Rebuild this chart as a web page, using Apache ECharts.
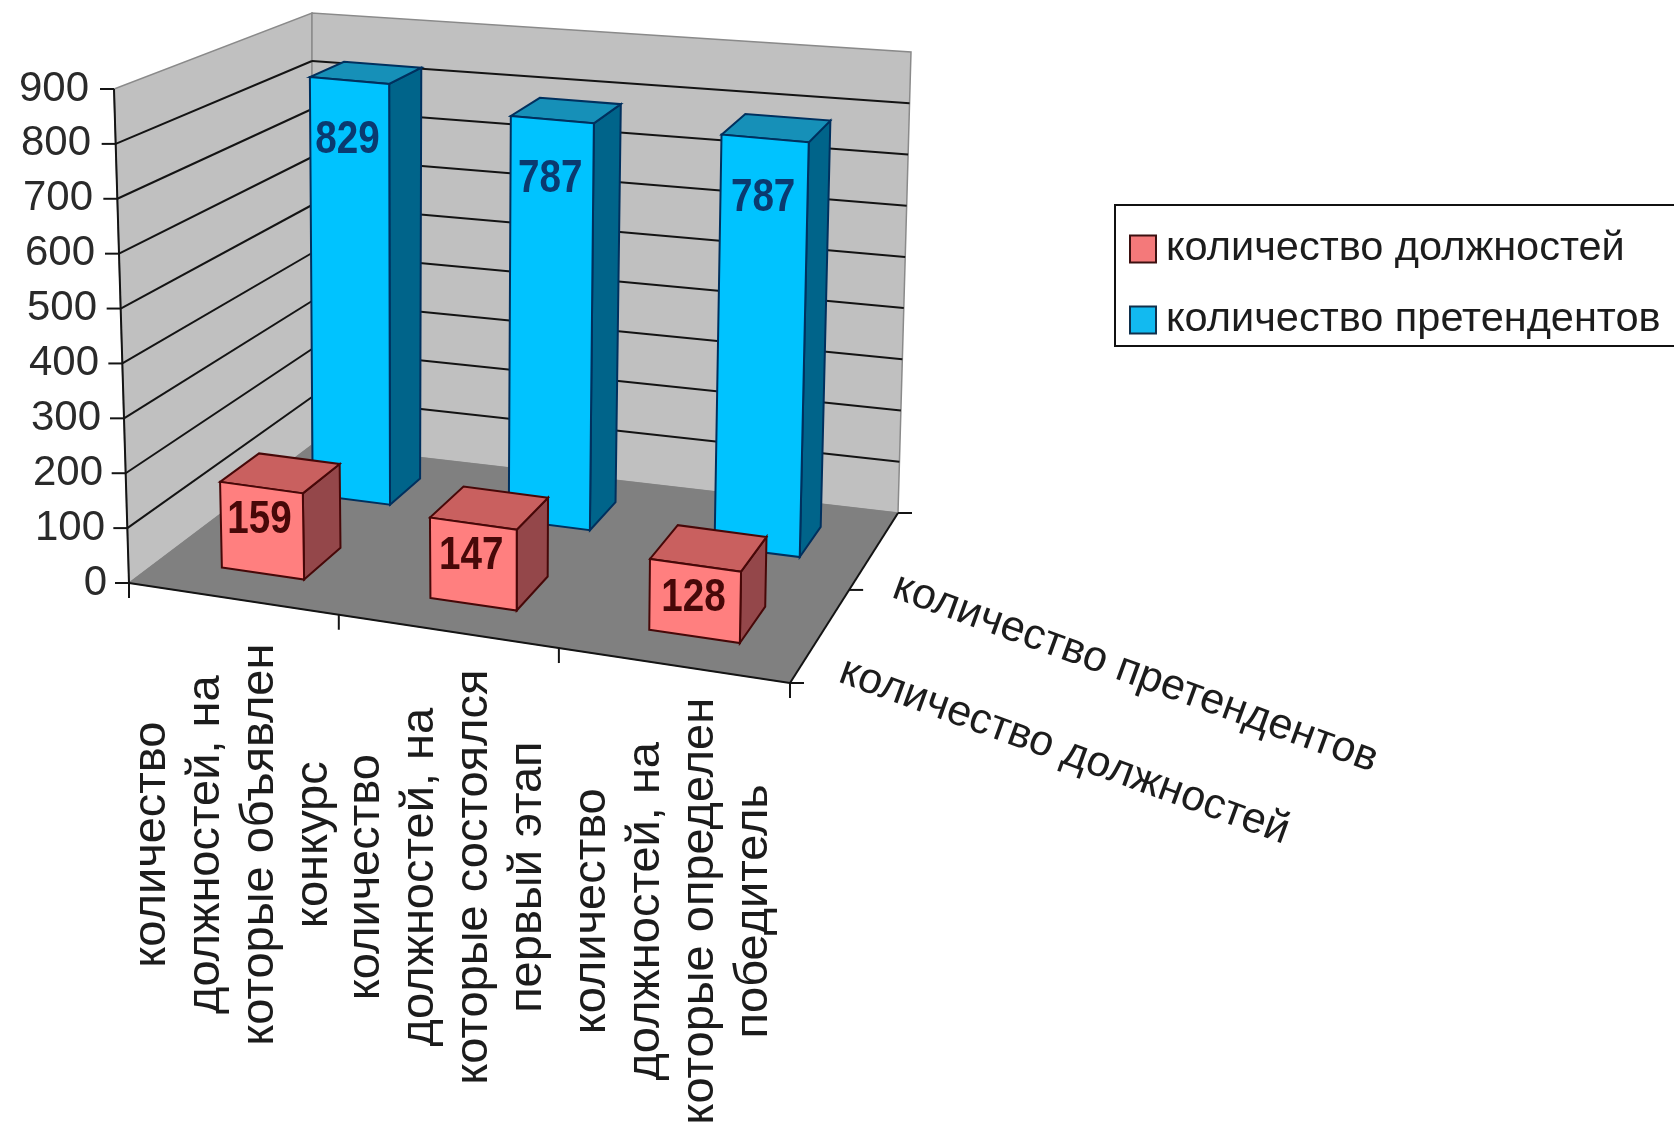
<!DOCTYPE html>
<html><head><meta charset="utf-8">
<style>html,body{margin:0;padding:0;background:#fff}#c{width:1674px;height:1131px}</style>
<script src="https://cdn.jsdelivr.net/npm/echarts@6/dist/echarts.min.js"></script>
</head><body><div id="c"></div>
<script>
// ---- data ----
const categories = [
  "количество\nдолжностей, на\nкоторые объявлен\nконкурс",
  "количество\nдолжностей, на\nкоторые состоялся\nпервый этап",
  "количество\nдолжностей, на\nкоторые определен\nпобедитель"
];
const seriesNames = ["количество должностей", "количество претендентов"];
const positionCounts = [159, 147, 128];
const applicantCounts = [829, 787, 787];
const valueTicks = [0, 100, 200, 300, 400, 500, 600, 700, 800, 900];

// ---- layout / style ----
const GRID = {left: 129, top: 89, width: 661, height: 494};
const BOX = {
  floor: {fl: [129, 583], fr: [790, 683], bl: [312, 445], br: [898, 513]},
  top:   {fl: [114, 89],  fr: [800, 170], bl: [312, 13],  br: [911, 52]}
};
const LABEL_FONT = '"Liberation Sans", Arial, sans-serif';
const TEXT = '#1c1c1c';
const SKIN = [
  {front: '#ff7f7f', top: '#c9605f', side: '#94474a', line: '#470808', label: '#470808'},
  {front: '#00c3ff', top: '#1690b8', side: '#00648a', line: '#00305e', label: '#0a3a70'}
];
const ROW_CENTER = [0.25, 0.75], ROW_HALF = 0.1, BAR_HALF = 0.2;

const mix = (a, b, k) => [a[0] + (b[0] - a[0]) * k, a[1] + (b[1] - a[1]) * k];
const warp = (x, k) => x * k / (1 + (k - 1) * x);
const plane = (q, u, w) => mix(mix(q.fl, q.fr, u), mix(q.bl, q.br, u), w);

// t: category-axis position, d: depth 0..1, v: value. Goes through the grid's own scales.
function project(api, t, d, v) {
  const c = api.coord([t, v]);
  const u = warp((c[0] - GRID.left) / GRID.width, 0.93);
  const w = warp(d, 1.21);
  const h = (GRID.top + GRID.height - c[1]) / GRID.height;
  return mix(plane(BOX.floor, u, w), plane(BOX.top, u, w), h);
}
const poly = (points, fill, stroke, lineWidth) => ({
  type: 'polygon', shape: {points},
  style: {fill, stroke: stroke || fill, lineWidth: lineWidth === undefined ? 1 : lineWidth}
});
const seg = (a, b, stroke, lineWidth) => ({
  type: 'line', shape: {x1: a[0], y1: a[1], x2: b[0], y2: b[1]},
  style: {stroke, lineWidth: lineWidth || 2, fill: null}
});

function renderFrame(params, api) {
  const P = (t, d, v) => project(api, t, d, v);
  const maxV = valueTicks[valueTicks.length - 1], kids = [];
  kids.push(poly([P(0,0,0), P(0,1,0), P(0,1,maxV), P(0,0,maxV)], '#c0c0c0', '#8a8a8a', 1.5));
  kids.push(poly([P(0,1,0), P(3,1,0), P(3,1,maxV), P(0,1,maxV)], '#c0c0c0', '#8a8a8a', 1.5));
  kids.push(poly([P(0,0,0), P(3,0,0), P(3,1,0), P(0,1,0)], '#808080', '#808080', 1));
  valueTicks.slice(1, -1).forEach(v => {
    kids.push(seg(P(0,0,v), P(0,1,v), '#141414'));
    kids.push(seg(P(0,1,v), P(3,1,v), '#141414'));
  });
  kids.push(seg(P(0,0,0), P(0,0,maxV), '#141414'));
  kids.push(seg(P(0,0,0), P(3,0,0), '#141414'));
  kids.push(seg(P(3,0,0), P(3,1,0), '#141414'));
  valueTicks.forEach(v => {
    const p = P(0,0,v);
    kids.push(seg([p[0] - 14, p[1]], p, '#141414'));
  });
  [0, 1, 2, 3].forEach(t => {
    const p = P(t,0,0);
    kids.push(seg(p, [p[0], p[1] + 15], '#141414'));
  });
  [0, 0.5, 1].forEach(d => {
    const p = P(3,d,0);
    kids.push(seg(p, [p[0] + 14, p[1]], '#141414'));
  });
  return {type: 'group', children: kids};
}

function renderTexts(params, api) {
  const P = (t, d, v) => project(api, t, d, v);
  const kids = [];
  categories.forEach((text, i) => {
    const p = P(i + 0.5, 0, 0);
    kids.push({type: 'text', x: p[0], y: p[1] + 246, rotation: Math.PI / 2,
      style: {text, x: 0, y: 0, align: 'center', verticalAlign: 'middle',
        font: '47px ' + LABEL_FONT, lineHeight: 54, fill: TEXT}});
  });
  seriesNames.forEach((text, i) => {
    const p = P(3, ROW_CENTER[i], 0);
    kids.push({type: 'text', x: p[0] + 20, y: p[1] + 36, rotation: -20 * Math.PI / 180,
      style: {text, x: 0, y: 0, align: 'left', verticalAlign: 'middle',
        font: '43px ' + LABEL_FONT, fill: TEXT}});
  });
  return {type: 'group', children: kids};
}

function barRenderer(row) {
  return function (params, api) {
    const i = api.value(0), val = api.value(1), s = SKIN[row];
    const l = i + 0.5 - BAR_HALF, r = i + 0.5 + BAR_HALF;
    const f = ROW_CENTER[row] - ROW_HALF, b = ROW_CENTER[row] + ROW_HALF;
    const P = (t, d, v) => project(api, t, d, v);
    const top = mix(P(l, f, val), P(r, f, val), 0.5);
    return {type: 'group', children: [
      poly([P(r,f,0), P(r,b,0), P(r,b,val), P(r,f,val)], s.side, s.line, 2),
      poly([P(l,f,val), P(r,f,val), P(r,b,val), P(l,b,val)], s.top, s.line, 2),
      poly([P(l,f,0), P(r,f,0), P(r,f,val), P(l,f,val)], s.front, s.line, 2),
      {type: 'text', x: top[0] - 2, y: top[1] + (row === 0 ? 33 : 60), scaleX: 0.84,
        style: {text: String(val), x: 0, y: 0, align: 'center', verticalAlign: 'middle',
          font: 'bold 46px ' + LABEL_FONT, fill: s.label}}
    ]};
  };
}

const rich = {};
valueTicks.forEach(v => {
  rich['t' + v] = {
    fontSize: 42, fontFamily: LABEL_FONT, color: '#2a2a2a',
    padding: [0, 18 * v / 900, 0, 0]
  };
});

const chart = echarts.init(document.getElementById('c'), null, {renderer: 'canvas', width: 1674, height: 1131});
chart.setOption({
  animation: false,
  backgroundColor: '#fff',
  grid: Object.assign({containLabel: false}, GRID),
  xAxis: {type: 'value', min: 0, max: 3, show: false},
  yAxis: {
    type: 'value', min: 0, max: 900, interval: 100,
    splitLine: {show: false}, axisLine: {show: false}, axisTick: {show: false},
    axisLabel: {margin: 22, formatter: v => '{t' + v + '|' + v + '}', rich}
  },
  legend: {
    left: 1115, top: 205, orient: 'vertical',
    padding: [23, 20, 5, 14],
    itemWidth: 26, itemHeight: 27, itemGap: 29,
    borderColor: '#111', borderWidth: 2, backgroundColor: '#fff',
    textStyle: {fontSize: 41.5, fontFamily: LABEL_FONT, color: TEXT, padding: [0, 0, 0, 5]},
    data: [
      {name: seriesNames[0], icon: 'rect', itemStyle: {color: '#f4797a', borderColor: '#3c1010', borderWidth: 2}},
      {name: seriesNames[1], icon: 'rect', itemStyle: {color: '#12baf0', borderColor: '#10304c', borderWidth: 2}}
    ]
  },
  series: [
    {type: 'custom', name: 'frame', silent: true, clip: false, z: 1, data: [[0, 0]], renderItem: renderFrame},
    {type: 'custom', name: 'texts', silent: true, clip: false, z: 1, data: [[0, 0]], renderItem: renderTexts},
    {type: 'custom', name: seriesNames[1], clip: false, z: 2, itemStyle: {color: SKIN[1].front},
      data: applicantCounts.map((v, i) => [i, v]), renderItem: barRenderer(1)},
    {type: 'custom', name: seriesNames[0], clip: false, z: 3, itemStyle: {color: SKIN[0].front},
      data: positionCounts.map((v, i) => [i, v]), renderItem: barRenderer(0)}
  ]
});
</script></body></html>
